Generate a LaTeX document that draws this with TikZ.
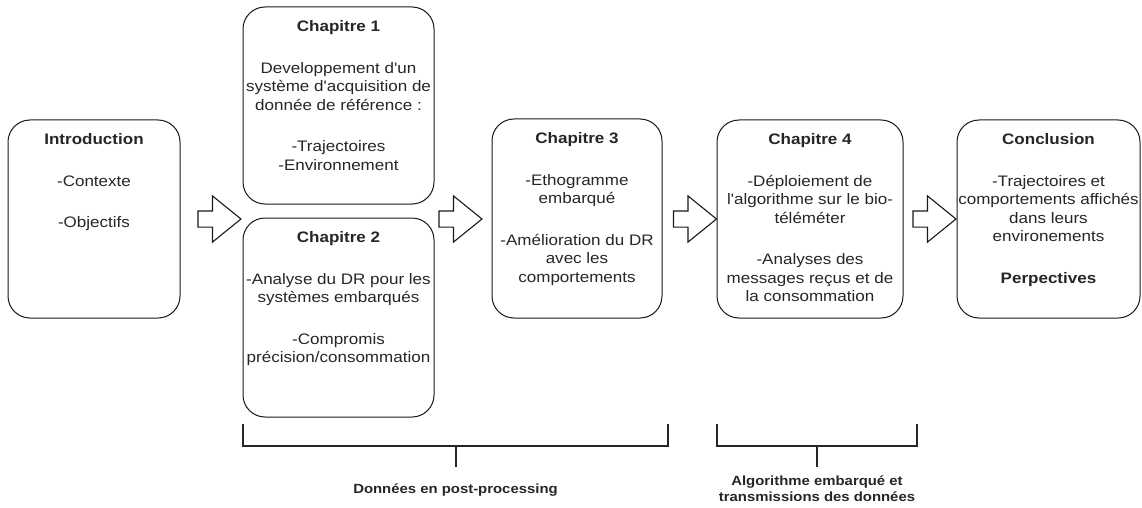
\documentclass[tikz,border=0pt]{standalone}
\usepackage{fontspec}
\setmainfont{Liberation Sans}[FakeStretch=1.12,Ligatures=TeXOff]
\usetikzlibrary{shapes.arrows}
\begin{document}
\begin{tikzpicture}[x=1pt,y=-1pt]
\tikzset{
  chapbox/.style={draw=black!90, line width=1pt, rounded corners=22pt, inner sep=0pt, fill=white},
  boxtext/.style={font=\fontsize{15.2}{18.5}\selectfont, align=center, anchor=north, inner sep=0pt, text=black!85},
  blockarrow/.style={draw=black!90, line width=1.1pt, fill=white, single arrow, inner xsep=0pt, inner ysep=7.5pt,
    single arrow head extend=15pt, single arrow head indent=0pt, single arrow tip angle=78, minimum height=43pt, line join=miter},
  bracketline/.style={draw=black!85, line width=2pt},
  brlabel/.style={font=\fontsize{13.3}{16.5}\selectfont\bfseries, align=center, anchor=north, inner sep=0pt, text=black!85}
}
\useasboundingbox[fill=white] (0,0) rectangle (1142,508);

% boxes
\node[chapbox, minimum width=172pt, minimum height=198pt] (intro) at (94,219) {};
\node[chapbox, minimum width=191pt, minimum height=197pt] (ch1) at (338.5,105.5) {};
\node[chapbox, minimum width=191pt, minimum height=199pt] (ch2) at (338.5,317.5) {};
\node[chapbox, minimum width=170pt, minimum height=199pt] (ch3) at (577,218.5) {};
\node[chapbox, minimum width=186pt, minimum height=198pt] (ch4) at (810,219) {};
\node[chapbox, minimum width=183pt, minimum height=198pt] (concl) at (1048.5,219) {};

% texts
\node[boxtext] (introt) at ([yshift=-14pt]intro.north) {\textbf{Introduction}\\[23pt]-Contexte\\[23pt]-Objectifs};
\node[boxtext] (ch1t) at ([yshift=-14pt]ch1.north) {\textbf{Chapitre 1}\\[23pt]Developpement d'un\\système d'acquisition de\\donnée de référence :\\[23pt]-Trajectoires\\-Environnement};
\node[boxtext] (ch2t) at ([yshift=-14pt]ch2.north) {\textbf{Chapitre 2}\\[23pt]-Analyse du DR pour les\\systèmes embarqués\\[23pt]-Compromis\\précision/consommation};
\node[boxtext] (ch3t) at ([yshift=-14pt]ch3.north) {\textbf{Chapitre 3}\\[23pt]-Ethogramme\\embarqué\\[23pt]-Amélioration du DR\\avec les\\comportements};
\node[boxtext] (ch4t) at ([yshift=-14pt]ch4.north) {\textbf{Chapitre 4}\\[23pt]-Déploiement de\\l'algorithme sur le bio-\\téléméter\\[23pt]-Analyses des\\messages reçus et de\\la consommation};
\node[boxtext] (conclt) at ([yshift=-14pt]concl.north) {\textbf{Conclusion}\\[23pt]-Trajectoires et\\comportements affichés\\dans leurs\\environements\\[23pt]\textbf{Perpectives}};

% block arrows
\node[blockarrow] (a1) at (214.5,219) {};
\node[blockarrow] (a2) at (455.5,219) {};
\node[blockarrow] (a3) at (690,219) {};
\node[blockarrow] (a4) at (929.5,219) {};

% brackets
\coordinate (b1l) at (242.7,424);
\coordinate (b1r) at (668,424);
\coordinate (b1m) at (455.5,445.5);
\coordinate (b1t) at (455.5,467);
\coordinate (b2l) at (717,424);
\coordinate (b2r) at (917,424);
\coordinate (b2m) at (817,445.5);
\coordinate (b2t) at (817,467);
\draw[bracketline] (b1l) |- (b1m) -| (b1r);
\draw[bracketline] (b1m) -- (b1t);
\draw[bracketline] (b2l) |- (b2m) -| (b2r);
\draw[bracketline] (b2m) -- (b2t);

\node[brlabel] (lab1) at (455.5,483.5) {Données en post-processing};
\node[brlabel] (lab2) at (817,475.5) {Algorithme embarqué et\\transmissions des données};
\end{tikzpicture}
\end{document}
